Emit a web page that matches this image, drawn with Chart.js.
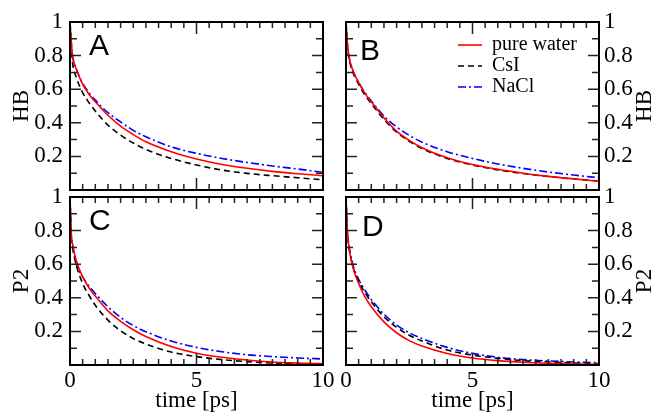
<!DOCTYPE html>
<html>
<head>
<meta charset="utf-8">
<script src="https://cdn.jsdelivr.net/npm/chart.js@4.4.1/dist/chart.umd.min.js"></script>
<style>
  body { margin: 0; background: #fff; }
  #wrap { position: relative; width: 658px; height: 412px; }
  #wrap canvas { position: absolute; left: 0; top: 0; }
</style>
</head>
<body>
<div id="wrap">
  <canvas id="pa" width="658" height="412"></canvas>
  <canvas id="pb" width="658" height="412"></canvas>
  <canvas id="pc" width="658" height="412"></canvas>
  <canvas id="pd" width="658" height="412"></canvas>
</div>
<script>
// time axis (ps), shared by all curves
var time = [0, 0.05, 0.1, 0.25, 0.5, 0.75, 1, 1.5, 2, 2.5, 3, 4, 5, 6, 7, 8, 9, 10];

// panel A - HB
var aWater = [1.0, 0.88, 0.80, 0.72, 0.63, 0.57, 0.525, 0.445, 0.38, 0.33, 0.287, 0.228, 0.184, 0.152, 0.129, 0.111, 0.097, 0.085];
var aCsI   = [1.0, 0.86, 0.76, 0.67, 0.58, 0.52, 0.47, 0.386, 0.327, 0.28, 0.242, 0.188, 0.149, 0.119, 0.099, 0.085, 0.073, 0.061];
var aNaCl  = [1.0, 0.88, 0.80, 0.72, 0.635, 0.58, 0.535, 0.46, 0.405, 0.355, 0.317, 0.257, 0.218, 0.188, 0.164, 0.143, 0.125, 0.105];
// panel B - HB
var bWater = [1.0, 0.88, 0.81, 0.72, 0.64, 0.575, 0.525, 0.43, 0.35, 0.295, 0.252, 0.192, 0.152, 0.123, 0.1, 0.081, 0.066, 0.052];
var bCsI   = [1.0, 0.87, 0.80, 0.71, 0.63, 0.565, 0.515, 0.42, 0.345, 0.29, 0.247, 0.188, 0.149, 0.12, 0.098, 0.08, 0.066, 0.053];
var bNaCl  = [1.0, 0.88, 0.81, 0.72, 0.64, 0.58, 0.53, 0.44, 0.375, 0.325, 0.285, 0.228, 0.188, 0.155, 0.129, 0.107, 0.089, 0.073];
// panel C - P2
var cWater = [1.0, 0.78, 0.72, 0.62, 0.525, 0.46, 0.41, 0.322, 0.26, 0.21, 0.17, 0.11, 0.07, 0.046, 0.03, 0.018, 0.012, 0.008];
var cCsI   = [1.0, 0.76, 0.70, 0.594, 0.485, 0.415, 0.356, 0.267, 0.204, 0.158, 0.125, 0.077, 0.05, 0.032, 0.02, 0.012, 0.008, 0.006];
var cNaCl  = [1.0, 0.78, 0.72, 0.60, 0.525, 0.47, 0.426, 0.347, 0.283, 0.235, 0.198, 0.143, 0.105, 0.079, 0.061, 0.05, 0.042, 0.036];
// panel D - P2
var dWater = [1.0, 0.80, 0.72, 0.594, 0.485, 0.405, 0.347, 0.257, 0.192, 0.145, 0.113, 0.069, 0.042, 0.026, 0.016, 0.01, 0.006, 0.004];
var dCsI   = [1.0, 0.80, 0.72, 0.60, 0.50, 0.43, 0.376, 0.287, 0.224, 0.177, 0.143, 0.089, 0.059, 0.04, 0.026, 0.018, 0.012, 0.008];
var dNaCl  = [1.0, 0.80, 0.73, 0.61, 0.51, 0.445, 0.39, 0.303, 0.238, 0.192, 0.158, 0.105, 0.069, 0.046, 0.032, 0.024, 0.018, 0.014];

var seriesNames = ['pure water', 'CsI', 'NaCl'];
var xTicks = [0, 5, 10];
var yTicks = [0.2, 0.4, 0.6, 0.8, 1];
var xTitle = 'time [ps]';

var W = 658, H = 412;
var serif = '"Liberation Serif", "Times New Roman", serif';
var styles = [
  { color: '#ff0000', dash: [] },
  { color: '#000000', dash: [6, 4] },
  { color: '#0000ff', dash: [8, 3, 2, 3] }
];

function plainLabel(v) { return String(+v.toFixed(2)); }

// frame, inward ticks, panel letter, y title and legend
var framePlugin = {
  id: 'frame',
  afterDatasetsDraw: function(chart, args, o) {
    var ctx = chart.ctx, a = chart.chartArea;
    var xs = chart.scales.x, ys = chart.scales.y;
    ctx.save();
    ctx.strokeStyle = '#222';
    ctx.lineWidth = 1.5;
    ctx.beginPath();
    for (var i = 0; i <= 20; i++) {
      var px = xs.getPixelForValue(i * 0.5);
      var len = (i % 10 === 0) ? 12 : 6;
      ctx.moveTo(px, a.bottom); ctx.lineTo(px, a.bottom - len);
      ctx.moveTo(px, a.top); ctx.lineTo(px, a.top + len);
    }
    for (var j = 0; j <= 10; j++) {
      var py = ys.getPixelForValue(j / 10);
      var l2 = (j % 2 === 0) ? 11 : 7;
      ctx.moveTo(a.left, py); ctx.lineTo(a.left + l2, py);
      ctx.moveTo(a.right, py); ctx.lineTo(a.right - l2, py);
    }
    ctx.stroke();

    ctx.strokeStyle = '#000';
    ctx.lineWidth = 2;
    ctx.strokeRect(a.left, a.top, a.right - a.left, a.bottom - a.top);

    ctx.fillStyle = '#000';
    ctx.font = '30px "Liberation Sans", Arial, sans-serif';
    ctx.textAlign = 'left';
    ctx.textBaseline = 'alphabetic';
    ctx.fillText(o.letter, o.lx, o.ly);

    ctx.save();
    ctx.translate(o.tx, (a.top + a.bottom) / 2);
    ctx.rotate(-Math.PI / 2);
    ctx.font = '23px ' + serif;
    ctx.textAlign = 'center';
    ctx.textBaseline = 'middle';
    ctx.fillText(o.ytitle, 0, 0);
    ctx.restore();

    if (o.legend) {
      ctx.font = '20px ' + serif;
      ctx.textAlign = 'left';
      ctx.textBaseline = 'middle';
      var rows = [45, 66, 87];
      chart.data.datasets.forEach(function(ds, k) {
        ctx.strokeStyle = ds.borderColor;
        ctx.lineWidth = ds.borderWidth;
        ctx.setLineDash(ds.borderDash);
        ctx.beginPath();
        ctx.moveTo(458, rows[k]); ctx.lineTo(482, rows[k]);
        ctx.stroke();
        ctx.setLineDash([]);
        ctx.fillText(ds.label, 492, rows[k]);
      });
    }
    ctx.restore();
  }
};

function makePanel(id, cfg) {
  var area = cfg.area, left = cfg.side === 'left';
  var datasets = cfg.data.map(function(arr, k) {
    return {
      label: seriesNames[k],
      data: time.map(function(t, i) { return { x: t, y: arr[i] }; }),
      borderColor: styles[k].color,
      borderDash: styles[k].dash,
      borderWidth: 1.6,
      pointRadius: 0,
      fill: false,
      cubicInterpolationMode: 'monotone'
    };
  });
  return new Chart(document.getElementById(id), {
    type: 'line',
    data: { datasets: datasets },
    plugins: [framePlugin],
    options: {
      responsive: false,
      animation: false,
      events: [],
      layout: {
        padding: {
          left: left ? 0 : area[0],
          right: left ? W - area[2] : 0,
          top: area[1],
          bottom: cfg.bottom ? 0 : H - area[3]
        }
      },
      plugins: {
        legend: { display: false },
        tooltip: { enabled: false },
        frame: cfg
      },
      scales: {
        x: {
          type: 'linear', min: 0, max: 10,
          grid: { display: false, drawTicks: false },
          border: { display: false },
          afterBuildTicks: function(s) { s.ticks = xTicks.map(function(v) { return { value: v }; }); },
          ticks: { display: cfg.bottom, color: '#000', font: { family: serif, size: 23 }, padding: 2, maxRotation: 0, autoSkip: false, callback: plainLabel },
          title: { display: cfg.bottom, text: xTitle, color: '#000', font: { family: serif, size: 23, lineHeight: 1 }, padding: { top: 0, bottom: 0 } },
          afterFit: function(s) { s.height = cfg.bottom ? H - area[3] : 0; }
        },
        y: {
          type: 'linear', position: cfg.side, min: 0, max: 1,
          grid: { display: false, drawTicks: false },
          border: { display: false },
          afterBuildTicks: function(s) { s.ticks = yTicks.map(function(v) { return { value: v }; }); },
          ticks: { color: '#000', font: { family: serif, size: 23 }, padding: left ? 7 : 5, callback: plainLabel },
          afterFit: function(s) { s.width = left ? area[0] : W - area[2]; }
        }
      }
    }
  });
}

makePanel('pa', { letter: 'A', lx: 89, ly: 55, ytitle: 'HB', tx: 22, side: 'left', bottom: false, area: [70, 22, 323, 190], data: [aWater, aCsI, aNaCl] });
makePanel('pb', { letter: 'B', lx: 360, ly: 60, ytitle: 'HB', tx: 645, side: 'right', bottom: false, area: [346, 22, 599, 190], data: [bWater, bCsI, bNaCl], legend: true });
makePanel('pc', { letter: 'C', lx: 89, ly: 230, ytitle: 'P2', tx: 22, side: 'left', bottom: true, area: [70, 197, 323, 365], data: [cWater, cCsI, cNaCl] });
makePanel('pd', { letter: 'D', lx: 362, ly: 236, ytitle: 'P2', tx: 645, side: 'right', bottom: true, area: [346, 197, 599, 365], data: [dWater, dCsI, dNaCl] });
</script>
</body>
</html>
